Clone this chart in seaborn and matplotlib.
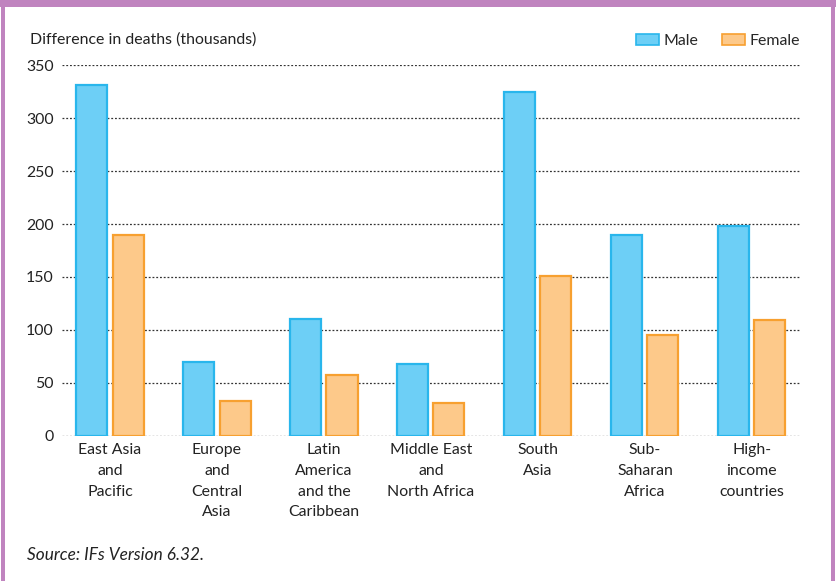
import matplotlib
matplotlib.use("Agg")
import matplotlib.pyplot as plt
import seaborn as sns
import pandas as pd
from matplotlib.patches import Rectangle

regions = ["East Asia\nand\nPacific", "Europe\nand\nCentral\nAsia",
           "Latin\nAmerica\nand the\nCaribbean", "Middle East\nand\nNorth Africa",
           "South\nAsia", "Sub-\nSaharan\nAfrica", "High-\nincome\ncountries"]
male = [331, 70, 110, 68, 325, 190, 198]
female = [190, 33, 58, 31, 151, 95, 109]
sexes = ["Male", "Female"]
yticks = [0, 50, 100, 150, 200, 250, 300, 350]

df = pd.DataFrame({
    "region": regions * 2,
    "sex": ["Male"] * len(regions) + ["Female"] * len(regions),
    "deaths": male + female,
})

sns.set_theme(style="white")
plt.rcParams["font.family"] = ["Lato", "DejaVu Sans"]

fill = {"Male": "#6dcff6", "Female": "#fdc98a"}
edge = {"Male": "#29b6ec", "Female": "#f7a030"}
fs = 11.4

fig = plt.figure(figsize=(8.36, 5.81), dpi=100)
ax = fig.add_axes([0.074, 0.2496, 0.883, 0.6385])

sns.barplot(data=df, x="region", y="deaths", hue="sex", hue_order=sexes,
            palette=fill, saturation=1, width=0.674, gap=0.14, ax=ax, zorder=3,
            legend=False, linewidth=1.6)
for container, s in zip(ax.containers, sexes):
    for bar in container:
        bar.set_edgecolor(edge[s])

ax.set_xlim(-0.45, 6.45)
ax.set_ylim(0, 350)
ax.set_yticks(yticks)
ax.set_yticklabels([str(t) for t in yticks], fontsize=fs, color="#222222")
ax.tick_params(axis="x", labelsize=fs, colors="#222222", pad=5, length=0)
ax.tick_params(axis="y", pad=6, length=0)
for lbl in ax.get_xticklabels():
    lbl.set_linespacing(1.62)
ax.set_xlabel("")
ax.set_ylabel("")
for sp in ax.spines.values():
    sp.set_visible(False)
for t in yticks:
    ax.axhline(t, color="#333333", linestyle=(0, (1.5, 1.5)), linewidth=0.9, zorder=1)

fig.text(30 / 836, 1 - 40 / 581, "Difference in deaths (thousands)",
         fontsize=fs, color="#222222", va="center", ha="left")

# legend
handles = [Rectangle((0, 0), 1, 1, facecolor=fill[s], edgecolor=edge[s], linewidth=1.2)
           for s in sexes]
fig.legend(handles, sexes, loc="center right", bbox_to_anchor=(808 / 836, 1 - 41 / 581),
           ncol=2, frameon=False, fontsize=fs, handlelength=1.45, handleheight=0.75,
           handletextpad=0.3, columnspacing=1.5, borderpad=0)

fig.text(27 / 836, 1 - 555 / 581, "Source: IFs Version 6.32.", fontsize=12.4,
         style="italic", color="#222222", va="center", ha="left")

# frame
purple = "#c084bf"
fig.patches.append(Rectangle((0, 1 - 7 / 581), 1, 7 / 581, transform=fig.transFigure,
                             facecolor=purple, edgecolor="none"))
fig.patches.append(Rectangle((1 / 836, 0), 3.5 / 836, 1, transform=fig.transFigure,
                             facecolor=purple, edgecolor="none"))
fig.patches.append(Rectangle((831 / 836, 0), 3.5 / 836, 1, transform=fig.transFigure,
                             facecolor=purple, edgecolor="none"))

fig.savefig("out.png", dpi=100)
